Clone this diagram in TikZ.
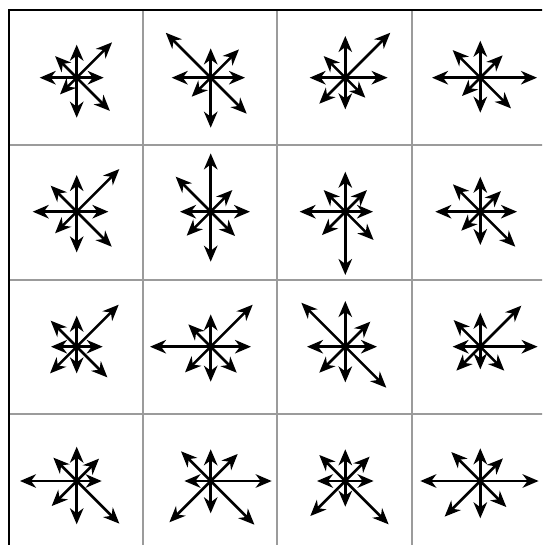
\documentclass[tikz,border=0pt]{standalone}
\usetikzlibrary{arrows.meta}
\definecolor{gridgray}{RGB}{155,155,155}
\newcommand\drawstar[2]{%
  \foreach \a/\l in {#2}{\draw[vec] (#1) -- ++(\a:\l pt);}%
}
\begin{document}
\begin{tikzpicture}[x=1pt,y=-1pt,
  gridline/.style={draw=gridgray, line width=2.4pt},
  frameline/.style={draw=black, line width=2.4pt},
  vec/.style={-{Stealth[length=16pt,width=13.5pt,inset=5pt]}, line width=2.6pt}]
\useasboundingbox (0,0) rectangle (542,545);
\clip (0,0) rectangle (542,545);
% grid
\foreach \x in {143,277,412}{\draw[gridline] (\x,10) -- (\x,546);}
\foreach \y in {145,280,414}{\draw[gridline] (9,\y) -- (543,\y);}
\draw[frameline] (9,546) -- (9,10) -- (543,10);
% centres
\foreach \r/\y in {1/77.7,2/211.7,3/346.7,4/481}{
  \foreach \c/\x in {1/76.7,2/210.7,3/345.3,4/480.3}{
    \coordinate (c\r\c) at (\x,\y);
  }
}
% stars: angle/length (E, NE, N, NW, W, SW, S, SE)
\drawstar{c11}{0/27,45/50,90/33,135/30.6,180/37,225/23.6,270/40,315/47}
\drawstar{c12}{0/34.3,45/40,90/29.3,135/63.6,180/39,225/26.9,270/50,315/50.9}
\drawstar{c13}{0/42.3,45/63.6,90/41.7,135/30.6,180/35.7,225/36.8,270/31.7,315/28.3}
\drawstar{c14}{0/56.7,45/31.6,90/37,135/39.1,180/48.3,225/25.9,270/35,315/43.4}
\drawstar{c21}{0/31.7,45/60.3,90/36.7,135/36.8,180/44,225/30.6,270/40.7,315/49.5}
\drawstar{c22}{0/39.3,45/30.6,90/58.3,135/49.5,180/30.7,225/34,270/50,315/34.4}
\drawstar{c23}{0/27.7,45/30.6,90/40,135/30.6,180/45.7,225/33,270/63.3,315/40}
\drawstar{c24}{0/36.7,45/29.2,90/35,135/38.7,180/45,225/26.9,270/33.3,315/49.5}
\drawstar{c31}{0/26,45/59.4,90/31,135/36.8,180/25.7,225/37.7,270/26.7,315/43.4}
\drawstar{c32}{0/40.3,45/59.4,90/32.3,135/31.6,180/60.7,225/36.3,270/35,315/36.8}
\drawstar{c33}{0/31.7,45/35.4,90/45.7,135/62.2,180/38.3,225/36.8,270/35.7,315/58}
\drawstar{c34}{0/57.3,45/58,90/34,135/37.7,180/27.7,225/33.9,270/22.7,315/33.9}
\drawstar{c41}{0/25,45/31.6,90/34.3,135/33,180/56.7,225/35.4,270/43.3,315/60.3}
\drawstar{c42}{0/61,45/38.2,90/31.7,135/42,180/26.3,225/58.4,270/32.3,315/61.8}
\drawstar{c43}{0/28.3,45/34.4,90/31.7,135/36.8,180/28.3,225/49.5,270/25.7,315/61.3}
\drawstar{c44}{0/58.3,45/32,90/32.7,135/41,180/60,225/50.4,270/37.3,315/36.8}
\end{tikzpicture}
\end{document}
